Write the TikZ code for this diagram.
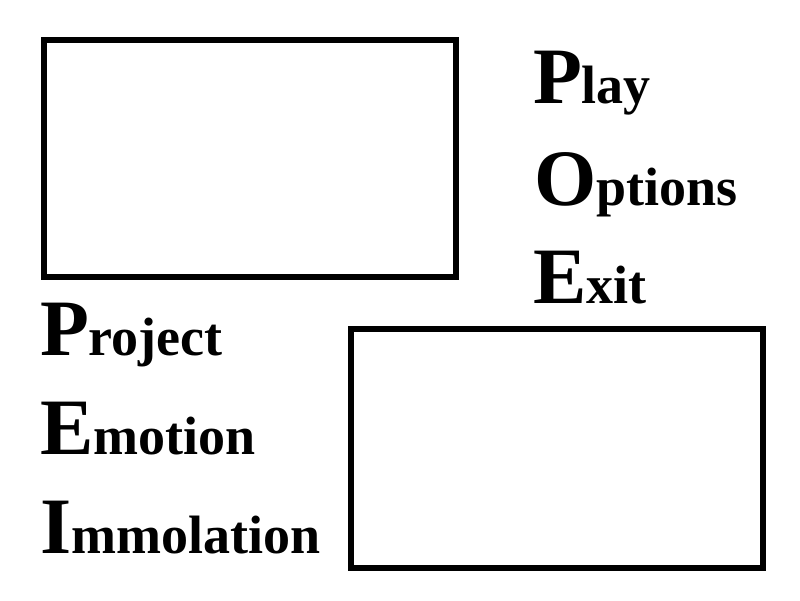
\documentclass[tikz,border=0pt]{standalone}
\usepackage{fontspec}
\setmainfont{Liberation Serif}
\tikzset{
  frame/.style={draw=black, line width=6pt, fill=white, inner sep=0pt, outer sep=0pt, anchor=north west},
  word/.style={anchor=base west, inner sep=0pt, outer sep=0pt, text=black, font=\bfseries},
}
\newcommand{\capl}[1]{{\fontsize{80}{80}\selectfont #1}}
\newcommand{\restl}[1]{{\fontsize{54}{54}\selectfont #1}}
\begin{document}
\begin{tikzpicture}[x=1pt,y=-1pt]
  \useasboundingbox[fill=white] (0,0) rectangle (800,600);
  \node[frame, minimum width=412pt, minimum height=237pt] (boxa) at (44,40) {};
  \node[frame, minimum width=412pt, minimum height=239pt] (boxb) at (351,329) {};
  \node[word] (play) at (533,103) {\capl{P}\restl{lay}};
  \node[word] (options) at (534,205) {\capl{O}\restl{ptions}};
  \node[word] (exit) at (533,303) {\capl{E}\restl{xit}};
  \node[word] (project) at (40,355) {\capl{P}\restl{roject}};
  \node[word] (emotion) at (40,454) {\capl{E}\restl{motion}};
  \node[word] (immolation) at (40,553) {\capl{I}\restl{mmolation}};
\end{tikzpicture}
\end{document}
